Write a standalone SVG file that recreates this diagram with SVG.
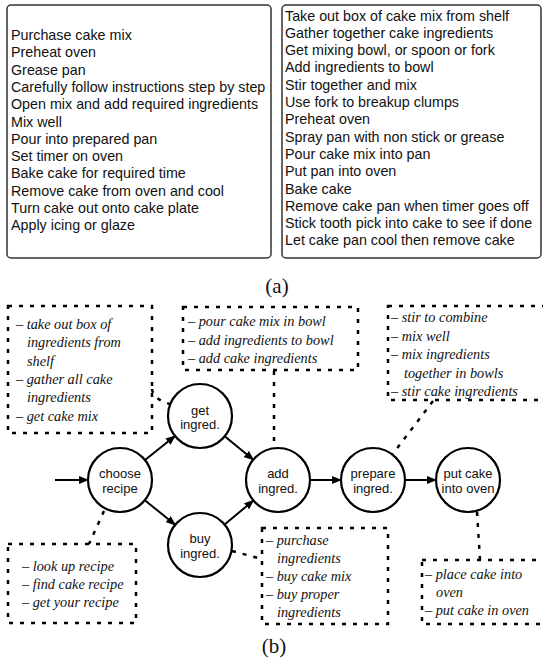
<svg xmlns="http://www.w3.org/2000/svg" width="543" height="661" viewBox="0 0 543 661">
<defs>
<marker id="arr" viewBox="0 0 10 8" markerWidth="5" markerHeight="4" refX="9" refY="4" orient="auto" markerUnits="strokeWidth">
<path d="M0,0 L10,4 L0,8 z" fill="#000"/>
</marker>
</defs>
<style>
.panel{fill:#fff;stroke:#333;stroke-width:1.5}
.list{font-family:"Liberation Sans",Arial,sans-serif;font-size:14.3px;fill:#111}
.cap{font-family:"Liberation Serif","Times New Roman",serif;font-size:21px;fill:#111;text-anchor:middle}
.dbox{fill:none;stroke:#000;stroke-width:2.5;stroke-dasharray:4 7}
.dline{fill:none;stroke:#000;stroke-width:2.5;stroke-dasharray:4 7}
.note{font-family:"Liberation Serif","Times New Roman",serif;font-style:italic;font-size:14.3px;fill:#111}
.node circle{fill:#fff;stroke:#000;stroke-width:2.2}
.node text{font-family:"Liberation Sans",Arial,sans-serif;font-size:13px;fill:#111;text-anchor:middle}
.arrow{fill:none;stroke:#000;stroke-width:2;marker-end:url(#arr)}
</style>
<rect width="543" height="661" fill="#fff"/>

<g id="panel-left">
<rect class="panel" x="7" y="5" width="264" height="253" rx="4"/>
<text class="list" x="11" y="40">Purchase cake mix</text>
<text class="list" x="11" y="57.3">Preheat oven</text>
<text class="list" x="11" y="74.6">Grease pan</text>
<text class="list" x="11" y="91.9">Carefully follow instructions step by step</text>
<text class="list" x="11" y="109.2">Open mix and add required ingredients</text>
<text class="list" x="11" y="126.5">Mix well</text>
<text class="list" x="11" y="143.8">Pour into prepared pan</text>
<text class="list" x="11" y="161.1">Set timer on oven</text>
<text class="list" x="11" y="178.4">Bake cake for required time</text>
<text class="list" x="11" y="195.7">Remove cake from oven and cool</text>
<text class="list" x="11" y="213">Turn cake out onto cake plate</text>
<text class="list" x="11" y="230.3">Apply icing or glaze</text>
</g>

<g id="panel-right">
<rect class="panel" x="282" y="5" width="259" height="253" rx="4"/>
<text class="list" x="285" y="20.5">Take out box of cake mix from shelf</text>
<text class="list" x="285" y="37.8">Gather together cake ingredients</text>
<text class="list" x="285" y="55.1">Get mixing bowl, or spoon or fork</text>
<text class="list" x="285" y="72.4">Add ingredients to bowl</text>
<text class="list" x="285" y="89.7">Stir together and mix</text>
<text class="list" x="285" y="107">Use fork to breakup clumps</text>
<text class="list" x="285" y="124.3">Preheat oven</text>
<text class="list" x="285" y="141.6">Spray pan with non stick or grease</text>
<text class="list" x="285" y="158.9">Pour cake mix into pan</text>
<text class="list" x="285" y="176.2">Put pan into oven</text>
<text class="list" x="285" y="193.5">Bake cake</text>
<text class="list" x="285" y="210.8">Remove cake pan when timer goes off</text>
<text class="list" x="285" y="228.1">Stick tooth pick into cake to see if done</text>
<text class="list" x="285" y="245.4">Let cake pan cool then remove cake</text>
</g>

<text class="cap" x="277" y="293">(a)</text>
<text class="cap" x="274" y="653">(b)</text>

<g id="connectors">
<line class="arrow" x1="55" y1="480" x2="88" y2="480"/>
<line class="arrow" x1="145" y1="460" x2="175" y2="436"/>
<line class="arrow" x1="224.7" y1="436.3" x2="253.3" y2="459.7"/>
<line class="arrow" x1="144.8" y1="500.2" x2="175.2" y2="524.8"/>
<line class="arrow" x1="224.6" y1="524.5" x2="253.4" y2="500.5"/>
<line class="arrow" x1="310" y1="480" x2="341" y2="480"/>
<line class="arrow" x1="405" y1="480" x2="436" y2="480"/>
<path class="dline" d="M152,389 Q153,399 170,404"/>
<line class="dline" x1="274" y1="371" x2="274" y2="447"/>
<line class="dline" x1="433" y1="401" x2="392" y2="455"/>
<line class="dline" x1="104" y1="511" x2="89" y2="544"/>
<line class="dline" x1="232" y1="551" x2="262" y2="559"/>
<line class="dline" x1="477" y1="512" x2="480" y2="560"/>
</g>

<g id="note-get">
<rect class="dbox" x="8" y="306" width="144" height="127"/>
<text class="note" x="16" y="329">– take out box of</text>
<text class="note" x="27" y="347.3">ingredients from</text>
<text class="note" x="27" y="365.6">shelf</text>
<text class="note" x="16" y="383.9">– gather all cake</text>
<text class="note" x="27" y="402.2">ingredients</text>
<text class="note" x="16" y="420.5">– get cake mix</text>
</g>

<g id="note-add">
<rect class="dbox" x="183" y="307" width="175" height="63"/>
<text class="note" x="188" y="326">– pour cake mix in bowl</text>
<text class="note" x="188" y="344.5">– add ingredients to bowl</text>
<text class="note" x="188" y="363">– add cake ingredients</text>
</g>

<g id="note-prepare">
<rect class="dbox" x="388" y="306" width="160" height="94"/>
<text class="note" x="391" y="322">– stir to combine</text>
<text class="note" x="391" y="340.5">– mix well</text>
<text class="note" x="391" y="359">– mix ingredients</text>
<text class="note" x="404" y="377.5">together in bowls</text>
<text class="note" x="391" y="396">– stir cake ingredients</text>
</g>

<g id="note-choose">
<rect class="dbox" x="8" y="544" width="128" height="79"/>
<text class="note" x="22" y="571">– look up recipe</text>
<text class="note" x="22" y="589">– find cake recipe</text>
<text class="note" x="22" y="607">– get your recipe</text>
</g>

<g id="note-buy">
<rect class="dbox" x="262" y="528" width="126" height="96"/>
<text class="note" x="266" y="545">– purchase</text>
<text class="note" x="277" y="563">ingredients</text>
<text class="note" x="266" y="581">– buy cake mix</text>
<text class="note" x="266" y="599">– buy proper</text>
<text class="note" x="277" y="617">ingredients</text>
</g>

<g id="note-put">
<rect class="dbox" x="422" y="560" width="126" height="64"/>
<text class="note" x="425" y="579">– place cake into</text>
<text class="note" x="436" y="597">oven</text>
<text class="note" x="425" y="615">– put cake in oven</text>
</g>

<g id="node-choose" class="node">
<circle cx="120" cy="480" r="32"/>
<text x="120" y="478">choose</text>
<text x="120" y="493">recipe</text>
</g>
<g id="node-get" class="node">
<circle cx="200" cy="416" r="32"/>
<text x="200" y="414.5">get</text>
<text x="200" y="429">ingred.</text>
</g>
<g id="node-buy" class="node">
<circle cx="200" cy="545" r="32"/>
<text x="200" y="543">buy</text>
<text x="200" y="558">ingred.</text>
</g>
<g id="node-add" class="node">
<circle cx="278" cy="480" r="32"/>
<text x="278" y="478">add</text>
<text x="278" y="493">ingred.</text>
</g>
<g id="node-prepare" class="node">
<circle cx="373" cy="480" r="32"/>
<text x="373" y="478">prepare</text>
<text x="373" y="493">ingred.</text>
</g>
<g id="node-put" class="node">
<circle cx="468" cy="480" r="32"/>
<text x="468" y="478">put cake</text>
<text x="468" y="493">into oven</text>
</g>
</svg>
